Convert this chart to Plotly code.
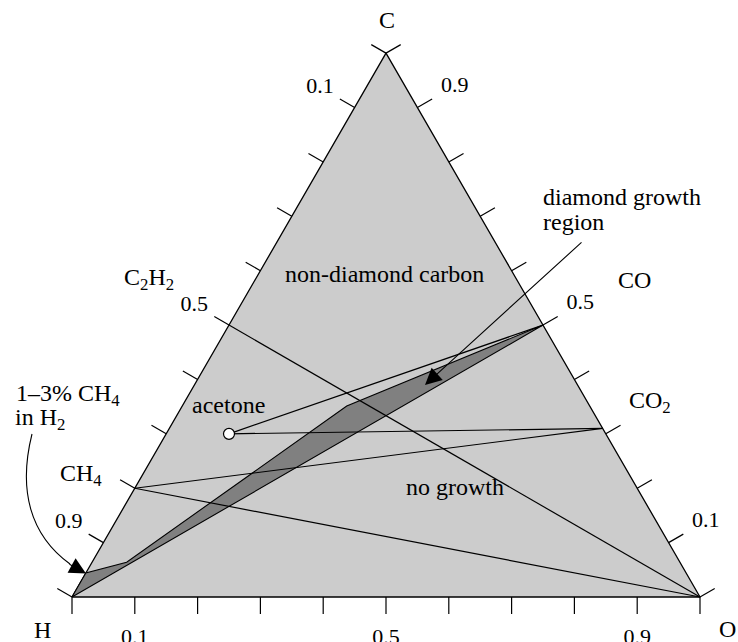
import math
import plotly.graph_objects as go

W, H = 738, 642
OFF = 0  # page body margin is removed by the post script below

# ---- data: atomic fractions (C, H, O) ----
species = ["C", "H", "O", "CH4", "C2H2", "CO", "CO2", "acetone"]
spec_C = [1.00, 0.00, 0.00, 0.20, 0.50, 0.50, 0.31, 0.30]
spec_H = [0.00, 1.00, 0.00, 0.80, 0.50, 0.00, 0.00, 0.60]
spec_O = [0.00, 0.00, 1.00, 0.00, 0.00, 0.50, 0.69, 0.10]

line_from = ["C2H2", "CH4", "CH4", "acetone", "acetone"]
line_to = ["O", "O", "CO2", "CO2", "CO"]

# diamond growth region boundary
region_C = [0.000, 0.044, 0.064, 0.351, 0.500, 0.000]
region_H = [1.000, 0.956, 0.881, 0.387, 0.000, 1.000]
region_O = [0.000, 0.000, 0.055, 0.262, 0.500, 0.000]

tick_vals = [0.0, 0.1, 0.2, 0.3, 0.4, 0.5, 0.6, 0.7, 0.8, 0.9, 1.0]
label_vals = [0.1, 0.5, 0.9]
label_text = ["0.1", "0.5", "0.9"]

FONT = "Liberation Serif"
S3 = math.sqrt(3) / 2
SCALE = 628.0                     # pixels per unit side
X0, Y0 = 72.0 - OFF, 597.0 - OFF  # pixel position of the H corner
TICK = 17 / SCALE
idx = {s: i for i, s in enumerate(species)}


def to_xy(c, h, o):
    s = c + h + o
    return o / s + 0.5 * c / s, S3 * c / s


def px(x):
    return (x - OFF) / W


def py(y):
    return 1 - (y - OFF) / H


fig = go.Figure()

# triangle
tri = [to_xy(*v) for v in [(0, 1, 0), (0, 0, 1), (1, 0, 0), (0, 1, 0)]]
fig.add_trace(go.Scatter(x=[p[0] for p in tri], y=[p[1] for p in tri], mode="lines",
                         fill="toself", fillcolor="#cccccc",
                         line=dict(color="black", width=1.3), hoverinfo="skip"))

# diamond growth region
reg = [to_xy(c, h, o) for c, h, o in zip(region_C, region_H, region_O)]
fig.add_trace(go.Scatter(x=[p[0] for p in reg], y=[p[1] for p in reg], mode="lines",
                         fill="toself", fillcolor="#808080",
                         line=dict(color="black", width=1.1), hoverinfo="skip"))

# tie lines
for f, t in zip(line_from, line_to):
    i, j = idx[f], idx[t]
    a = to_xy(spec_C[i], spec_H[i], spec_O[i])
    b = to_xy(spec_C[j], spec_H[j], spec_O[j])
    fig.add_trace(go.Scatter(x=[a[0], b[0]], y=[a[1], b[1]], mode="lines",
                             line=dict(color="black", width=1.2), hoverinfo="skip"))

# acetone point
k = idx["acetone"]
ac = to_xy(spec_C[k], spec_H[k], spec_O[k])
fig.add_trace(go.Scatter(x=[ac[0]], y=[ac[1]], mode="markers",
                         marker=dict(symbol="circle", size=11, color="white",
                                     line=dict(color="black", width=1.2)),
                         hoverinfo="skip"))

# edges: composition along the edge as a function of the labelled fraction v,
# outward normal, label distance (px)
edges = [
    (lambda v: (0, 1 - v, v), (0.0, -1.0), 41),      # bottom: O fraction
    (lambda v: (1 - v, v, 0), (-S3, 0.5), 40),       # left: H fraction
    (lambda v: (v, 0, 1 - v), (S3, 0.5), 43),        # right: C fraction
]
for comp, (nx, ny), dist in edges:
    tx, ty = [], []
    for v in tick_vals:
        x, y = to_xy(*comp(v))
        tx += [x, x + nx * TICK, None]
        ty += [y, y + ny * TICK, None]
    fig.add_trace(go.Scatter(x=tx, y=ty, mode="lines",
                             line=dict(color="black", width=1.2), hoverinfo="skip"))
    lx, ly = [], []
    for v in label_vals:
        x, y = to_xy(*comp(v))
        lx.append(x + nx * dist / SCALE)
        ly.append(y + ny * dist / SCALE)
    fig.add_trace(go.Scatter(x=lx, y=ly, mode="text", text=label_text,
                             textposition="middle center",
                             textfont=dict(family=FONT, size=22, color="black"),
                             hoverinfo="skip"))

fig.update_layout(
    width=W, height=H, margin=dict(l=0, r=0, t=0, b=0),
    paper_bgcolor="white", plot_bgcolor="white", showlegend=False, hovermode=False,
    xaxis=dict(visible=False, range=[-X0 / SCALE, (W - X0) / SCALE], fixedrange=True),
    yaxis=dict(visible=False, range=[-(H - Y0) / SCALE, Y0 / SCALE], fixedrange=True))

labels = [
    ("C", 387, 20),
    ("H", 42, 630),
    ("O", 727, 629),
    ("C<sub>2</sub>H<sub>2</sub>", 149, 279),
    ("CH<sub>4</sub>", 81, 475),
    ("CO", 634, 280),
    ("CO<sub>2</sub>", 650, 402),
    ("non-diamond carbon", 384, 274),
    ("acetone", 228, 405),
    ("no growth", 455, 487),
]
for txt, x, y in labels:
    fig.add_annotation(x=px(x), y=py(y), xref="paper", yref="paper", text=txt,
                       showarrow=False, xanchor="center", yanchor="middle",
                       font=dict(family=FONT, size=24, color="black"))

left_labels = [
    ("diamond growth", 541, 197),
    ("region", 541, 222),
    ("1–3% CH<sub>4</sub>", 14, 395),
    ("in H<sub>2</sub>", 13, 419),
]
for txt, x, y in left_labels:
    fig.add_annotation(x=px(x), y=py(y), xref="paper", yref="paper", text=txt,
                       showarrow=False, xanchor="left", yanchor="middle",
                       font=dict(family=FONT, size=24, color="black"))

# arrows
fig.add_annotation(x=px(425), y=py(385), xref="paper", yref="paper", text="",
                   showarrow=True, ax=158, ay=-144, arrowhead=2, arrowsize=3,
                   arrowwidth=1.1, arrowcolor="black")
fig.add_annotation(x=px(86), y=py(573.5), xref="paper", yref="paper", text="",
                   showarrow=True, ax=-18, ay=-10, arrowhead=2, arrowsize=3,
                   arrowwidth=1.1, arrowcolor="black")

# curved leader line for the 1–3% CH4 label
path = "M {},{} C {},{} {},{} {},{}".format(
    px(32), py(434), px(18), py(490), px(30), py(535), px(70), py(564))
fig.add_shape(type="path", path=path, xref="paper", yref="paper",
              line=dict(color="black", width=1.1))

fig.write_html("out.html",
               config={"displayModeBar": False, "staticPlot": True},
               post_script="document.body.style.margin='0';"
                           "document.documentElement.style.overflow='hidden';")
